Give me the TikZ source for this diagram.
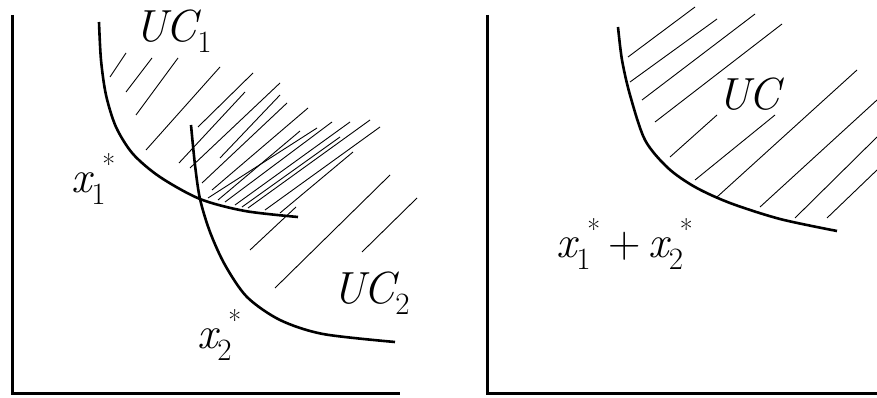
\documentclass[tikz,border=0pt]{standalone}
\usepackage{fontspec}
\usetikzlibrary{positioning}
\newcommand{\bigsz}{\rmfamily\fontsize{45}{48}\selectfont}
\newcommand{\subsz}{\rmfamily\upshape\fontsize{31}{33}\selectfont}
\newcommand{\starsz}{\rmfamily\upshape\fontsize{28}{30}\selectfont}
\newcommand{\xst}[1]{{\itshape x}\rlap{\raisebox{-12pt}{\subsz #1}}\hspace{11pt}\raisebox{18pt}{\starsz *}}
\newcommand{\ucsub}[1]{{\itshape UC}\raisebox{-11pt}{\subsz #1}}

\begin{document}
\begin{tikzpicture}[x=1pt,y=-1pt,
  axis/.style={line width=3pt},
  curve/.style={line width=2.6pt},
  hatch/.style={line width=0.9pt},
  lab/.style={anchor=base west,inner sep=0pt,font=\bigsz}]
\useasboundingbox (0,0) rectangle (877,398);
%\draw[help lines] (0,0) grid[step=50] (877,398);
% left panel
\draw[axis] (12,15)--(12,393)--(400,393);
\draw[curve] plot[smooth] coordinates {(99,22) (101,60) (106,95) (116,127) (133,154) (160,177) (200,199) (245,211) (298,217)};
\draw[curve] plot[smooth] coordinates {(191,125) (195,165) (200,199) (210,232) (225,265) (247,297) (280,320) (323,334) (395,342)};
\foreach \xa/\ya/\xb/\yb in {110/77/126/53,126/92/152/58,136/115/178/58,146/150/220/67,
  198/127/253/73,179/163/245/92,190/168/280/83,220/158/280/95,
  202/183/287/103,212/190/308/108,208/198/317/128,218/200/300/131,225/202/332/122,
  235/205/350/122,242/207/340/137,248/208/370/120,265/210/380/127,280/213/353/152,
  250/250/296/207,275/288/390/175,362/252/417/198}
\draw[hatch] (\xa,\ya) -- (\xb,\yb);
\node[lab] (uca) at (134,42) {\ucsub{1}};
\node[lab] (ucb) at (332,303) {\ucsub{2}};
\node[lab] (xa) at (71,193) {\xst{1}};
\node[lab] (xb) at (197,348) {\xst{2}};
% right panel
\draw[axis] (487,15)--(487,393)--(877,393);
\draw[curve] plot[smooth] coordinates {(618,27) (622,60) (630,95) (645,140) (668,168) (695,187) (730,203) (780,219) (837,231)};
\foreach \xa/\ya/\xb/\yb in {628/57/695/7,630/82/717/19,642/100/755/14,655/122/782/24,
  670/157/717/115,695/180/775/115,717/197/857/70,760/207/877/100,
  795/218/877/137,827/218/877/170}
\draw[hatch] (\xa,\ya) -- (\xb,\yb);
\node[lab] (ucr) at (717,110) {{\itshape UC}};
\node[lab] (xsum) at (556,257) {\xst{1}\hspace{8pt}+\hspace{8pt}\xst{2}};
\end{tikzpicture}
\end{document}
